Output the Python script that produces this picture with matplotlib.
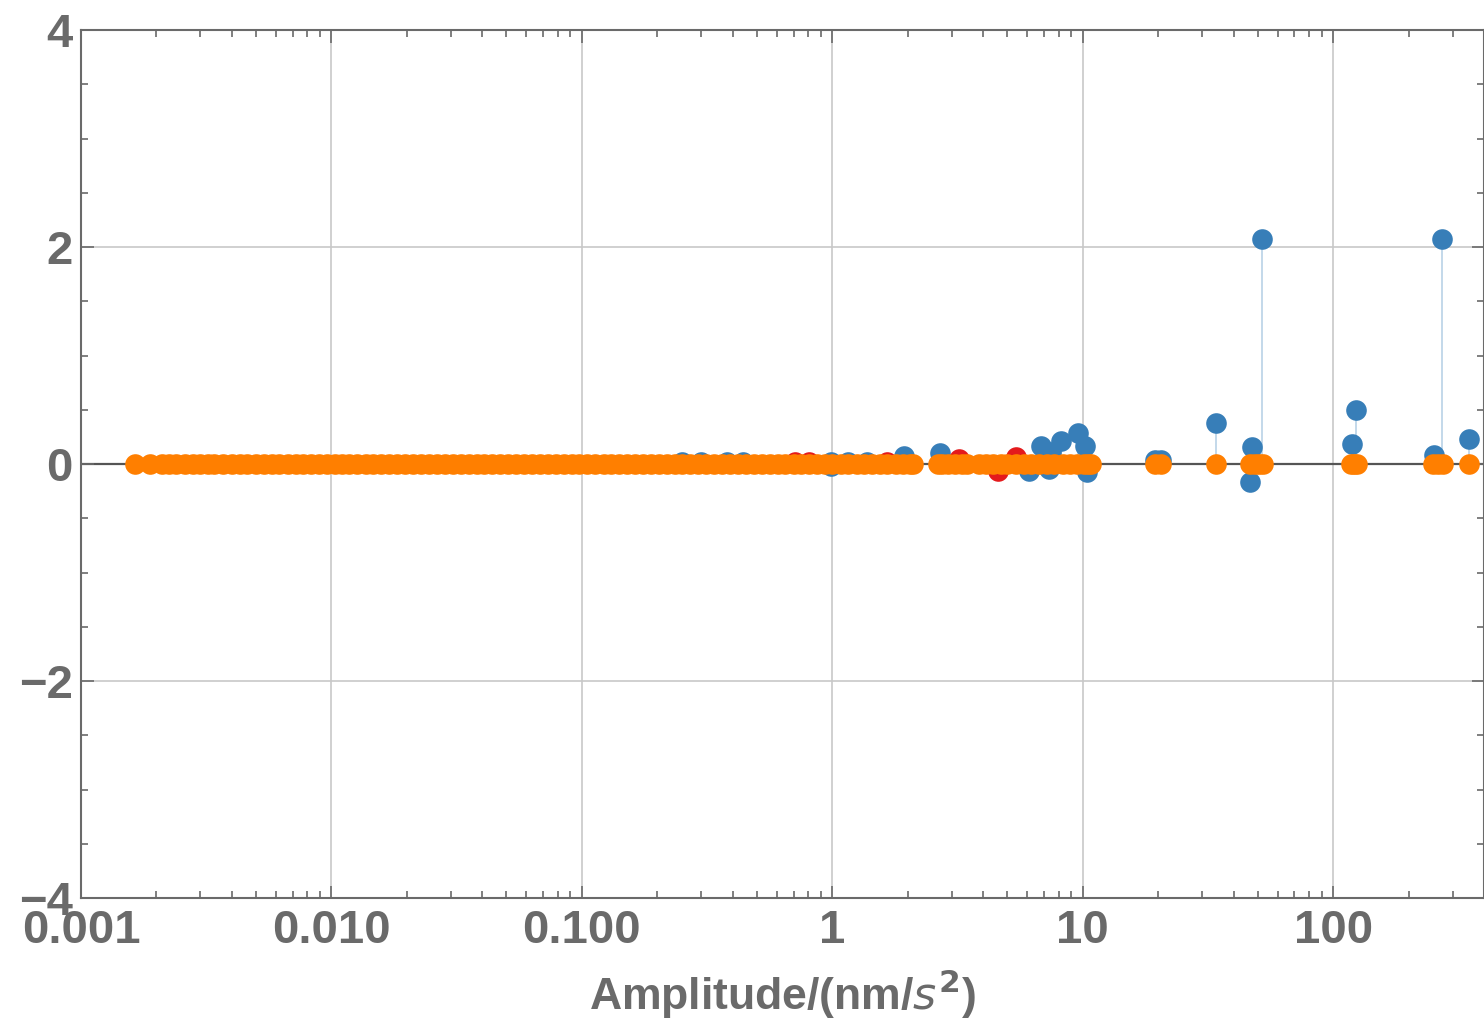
import matplotlib.pyplot as plt
from matplotlib.ticker import FixedLocator, NullFormatter
import numpy as np

# amplitudes (nm/s^2) and values for each series
orange_amp = [0.00165, 0.00188, 0.0021, 0.00225, 0.0024, 0.0026, 0.0028, 0.003, 0.0032, 0.0034,
              0.0037, 0.004, 0.0043, 0.0046, 0.005, 0.0054, 0.0058, 0.0062, 0.0067, 0.0072,
              0.0077, 0.0083, 0.0089, 0.0096, 0.0103, 0.011, 0.0118, 0.0127, 0.0137, 0.0147,
              0.0158, 0.017, 0.0183, 0.0197, 0.0212, 0.0228, 0.0245, 0.0263, 0.0283, 0.0305,
              0.0328, 0.0353, 0.038, 0.0408, 0.0439, 0.0472, 0.0508, 0.0546, 0.0587, 0.0632,
              0.068, 0.0731, 0.0786, 0.0846, 0.091, 0.0978, 0.105, 0.113, 0.122, 0.131,
              0.141, 0.152, 0.163, 0.175, 0.189, 0.203, 0.218, 0.235, 0.252, 0.271,
              0.292, 0.314, 0.338, 0.363, 0.39, 0.42, 0.452, 0.486, 0.523, 0.562,
              0.605, 0.65, 0.7, 0.752, 0.81, 0.87, 0.935, 1.0, 1.08, 1.16,
              1.25, 1.34, 1.44, 1.55, 1.66, 1.79, 1.92, 2.05, 2.1,
              2.65, 2.75, 2.9, 3.1, 3.3, 3.45, 3.85, 4.1, 4.4, 4.7,
              5.0, 5.4, 5.8, 6.2, 6.7, 7.2, 7.7, 8.3, 8.9, 9.5,
              10.1, 10.5, 10.8, 19.4, 20.6, 34, 46.5, 48.5, 50.5, 52.5,
              118, 121, 125, 250, 262, 275, 347]
orange_val = [0.0] * len(orange_amp)

red_amp = [0.71, 0.81, 1.65, 3.2, 4.6, 5.4]
red_val = [0.02, 0.02, 0.02, 0.05, -0.06, 0.06]

blue_amp = [0.25, 0.30, 0.38, 0.44, 0.99, 0.99, 1.16, 1.37, 1.93, 2.69,
            6.1, 6.8, 7.3, 7.5, 8.2, 9.6, 10.2, 10.4, 19.4, 20.6,
            34, 46.6, 47.6, 51.8, 119, 123, 253, 273, 347]
blue_val = [0.02, 0.02, 0.02, 0.02, 0.02, -0.02, 0.02, 0.02, 0.07, 0.10,
            -0.06, 0.17, -0.05, 0.11, 0.21, 0.29, 0.17, -0.07, 0.04, 0.04,
            0.38, -0.17, 0.16, 2.07, 0.18, 0.50, 0.08, 2.07, 0.23]

xticks = [0.001, 0.01, 0.1, 1, 10, 100]
xticklabels = ['0.001', '0.010', '0.100', '1', '10', '100']
yticks = [-4, -2, 0, 2, 4]
yticklabels = ['\u22124', '\u22122', '0', '2', '4']

gray = '#6a6a6a'
blue = '#377eb8'
red = '#e41a1c'
orange = '#ff7f00'
font = ['Liberation Sans', 'DejaVu Sans']

fig = plt.figure(figsize=(14.84, 10.25), dpi=100)
ax = fig.add_axes([81/1484, 127/1025, 1403/1484, 868/1025])

ax.set_xscale('log')
ax.set_xlim(0.001, 400)
ax.set_ylim(-4, 4)

# grid and zero axis
for xv in xticks[1:]:
    ax.axvline(xv, color='#c8c8c8', lw=1.2, zorder=0)
for yv in [-2, 2]:
    ax.axhline(yv, color='#c8c8c8', lw=1.2, zorder=0)
ax.axhline(0, color='#555555', lw=1.6, zorder=1)

# stems from the axis
ax.vlines(blue_amp, 0, blue_val, color=blue, alpha=0.3, lw=1.4, zorder=2)
ax.vlines(red_amp, 0, red_val, color=red, alpha=0.3, lw=1.4, zorder=2)

ax.scatter(blue_amp, blue_val, s=220, color=blue, lw=0, zorder=3)
ax.scatter(red_amp, red_val, s=220, color=red, lw=0, zorder=4)
ax.scatter(orange_amp, orange_val, s=220, color=orange, lw=0, zorder=5)

for sp in ax.spines.values():
    sp.set_color(gray)
    sp.set_linewidth(1.5)

ax.xaxis.set_major_locator(FixedLocator(xticks))
ax.set_xticklabels(xticklabels)
minor_x = [m * 10.0**e for e in range(-3, 3) for m in range(2, 10)]
ax.xaxis.set_minor_locator(FixedLocator(minor_x))
ax.xaxis.set_minor_formatter(NullFormatter())
ax.yaxis.set_major_locator(FixedLocator(yticks))
ax.set_yticklabels(yticklabels)
ax.yaxis.set_minor_locator(FixedLocator(np.arange(-4, 4.01, 0.5)))

ax.tick_params(axis='both', which='both', direction='in', top=True, right=True,
               color=gray, width=1.2)
ax.tick_params(axis='both', which='major', length=9)
ax.tick_params(axis='both', which='minor', length=5)
ax.tick_params(axis='x', which='major', pad=8)
ax.tick_params(axis='y', which='major', pad=6)

for lab in ax.get_xticklabels() + ax.get_yticklabels():
    lab.set_family(font)
    lab.set_fontsize(34)
    lab.set_fontweight('bold')
    lab.set_color(gray)

ax.set_xlabel(r'Amplitude/(nm/$\mathit{s}^{\mathbf{2}}$)', family=font, fontsize=32,
              fontweight='bold', color=gray, labelpad=10)

plt.savefig('out.png', dpi=100)
